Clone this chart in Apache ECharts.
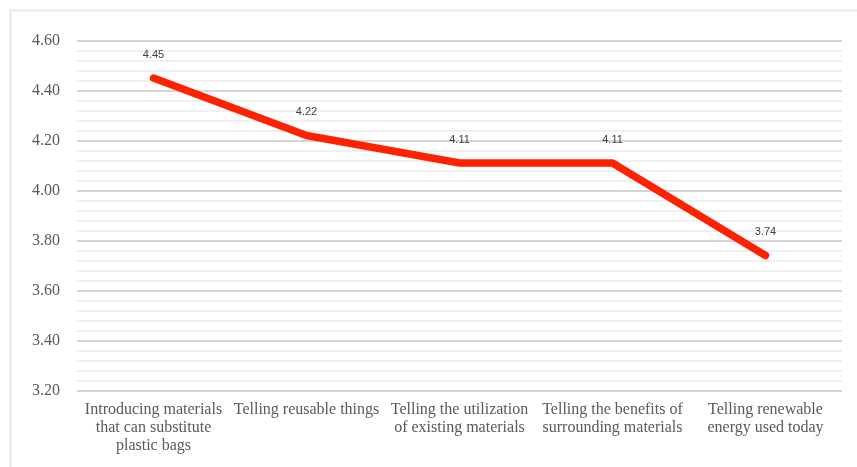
<!DOCTYPE html>
<html>
<head>
<meta charset="utf-8">
<script src="https://cdn.jsdelivr.net/npm/echarts@6/dist/echarts.min.js"></script>
<style>
  html, body { margin: 0; padding: 0; background: #ffffff; }
  #chart { width: 857px; height: 467px; }
</style>
</head>
<body>
<div id="chart"></div>
<script>
// Mean scores per teaching activity
const categories = [
  'Introducing materials\nthat can substitute\nplastic bags',
  'Telling reusable things',
  'Telling the utilization\nof existing materials',
  'Telling the benefits of\nsurrounding materials',
  'Telling renewable\nenergy used today'
];
const scores = [4.45, 4.22, 4.11, 4.11, 3.74];
const yMin = 3.2;
const yMax = 4.6;
const yStep = 0.2;

const serif = '"Liberation Serif", "DejaVu Serif", serif';

const chart = echarts.init(document.getElementById('chart'), null, { renderer: 'canvas' });
chart.setOption({
  animation: false,
  backgroundColor: '#ffffff',
  graphic: [{
    type: 'rect',
    shape: { x: 10.5, y: 10.5, width: 880, height: 480 },
    style: { fill: null, stroke: '#e3e3e3', lineWidth: 1.5 },
    silent: true
  }],
  grid: { left: 77, right: 15, top: 40.5, bottom: 76.5, containLabel: false },
  xAxis: {
    type: 'category',
    data: categories,
    boundaryGap: true,
    axisLine: { show: false },
    axisTick: { show: false },
    axisLabel: {
      interval: 0,
      margin: 10,
      color: '#595959',
      fontFamily: serif,
      fontSize: 16,
      lineHeight: 18
    }
  },
  yAxis: {
    type: 'value',
    min: yMin,
    max: yMax,
    interval: yStep,
    axisLine: { show: false },
    axisTick: { show: false },
    axisLabel: {
      margin: 17,
      color: '#595959',
      fontFamily: serif,
      fontSize: 16,
      formatter: v => v.toFixed(2)
    },
    splitLine: { show: true, lineStyle: { color: '#d6d6d6', width: 2 } },
    minorTick: { show: false, splitNumber: 5 },
    minorSplitLine: { show: true, lineStyle: { color: '#ececec', width: 1.5 } }
  },
  series: [{
    type: 'line',
    data: scores,
    symbol: 'circle',
    symbolSize: 2,
    showSymbol: true,
    lineStyle: { color: '#ff2200', width: 7.5, cap: 'round', join: 'round' },
    itemStyle: { color: 'rgba(255,34,0,0)', borderWidth: 0 },
    label: {
      show: true,
      position: 'top',
      distance: 17,
      color: '#404040',
      fontFamily: '"Liberation Sans", Arial, sans-serif',
      fontSize: 11,
      formatter: p => p.value.toFixed(2)
    }
  }]
});
</script>
</body>
</html>
